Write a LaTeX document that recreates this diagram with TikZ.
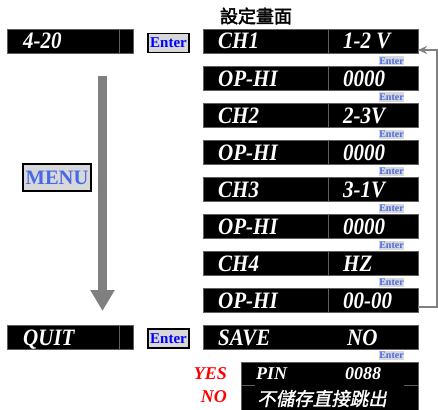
\documentclass[tikz,border=0pt]{standalone}
\usepackage{fontspec}
\setmainfont{Liberation Serif}
\newfontfamily\cjkit[FakeSlant=0.2,FakeBold=1.5]{Noto Sans CJK TC}
\newfontfamily\cjkbd[FakeBold=2.5]{Noto Sans CJK TC}
\usetikzlibrary{arrows.meta}
\definecolor{entblue}{RGB}{0,0,255}
\definecolor{ltblue}{RGB}{70,105,235}
\definecolor{lgray}{RGB}{216,216,216}
\definecolor{agray}{RGB}{128,128,128}
\definecolor{edgegray}{RGB}{95,95,95}
\newcommand\tallt[1]{\scalebox{1}[1.12]{#1}}
\begin{document}
\begin{tikzpicture}[x=1pt,y=-1pt,
  blk/.style={fill=black,draw=edgegray,line width=0.6pt,anchor=north west,inner sep=0,outer sep=0},
  wt/.style={text=white,font=\fontsize{21}{21}\selectfont\bfseries\itshape,anchor=base west,inner sep=0},
  wts/.style={text=white,font=\fontsize{18}{18}\selectfont\bfseries\itshape,anchor=base west,inner sep=0},
  divider/.style={draw=edgegray,line width=0.6pt},
  bigenter/.style={fill=lgray,draw=black,line width=1.6pt,text=entblue,font=\fontsize{15}{15}\selectfont\bfseries,inner sep=0.8pt,minimum width=41pt,minimum height=19pt},
  smenter/.style={fill=lgray,text=ltblue,font=\fontsize{10}{10}\selectfont\bfseries,inner sep=0.6pt,minimum width=25pt,minimum height=9pt},
  redt/.style={text=red,font=\fontsize{18}{18}\selectfont\bfseries\itshape,anchor=base east,inner sep=0}]
\useasboundingbox (0,0) rectangle (438,409);

% title
\node[font=\fontsize{18}{18}\selectfont\cjkbd,inner sep=0] (title) at (256,16) {設定畫面};

% left column
\node[blk,minimum width=126pt,minimum height=24pt] (lin) at (7,29) {};
\draw[divider] (119,29) -- (119,53);
\node[wt] (tin) at (23,49) {\tallt{4-20}};
\node[bigenter] (e1) at (168.5,43) {Enter};

\node[blk,minimum width=126pt,minimum height=24pt] (lquit) at (7,325) {};
\draw[divider] (119,325) -- (119,349);
\node[wt] (tquit) at (23,345) {\tallt{QUIT}};
\node[bigenter] (e2) at (168.5,338.5) {Enter};

% menu arrow
\coordinate (mtop) at (102.5,76);
\coordinate (mbot) at (102.5,311);
\draw[agray,line width=9pt,-{Triangle[width=23pt,length=21pt]}] (mtop) -- (mbot);
\node[fill=lgray,draw=black,line width=2pt,text=ltblue,font=\fontsize{20.5}{20.5}\selectfont\bfseries,inner sep=0.5pt,minimum width=68pt,minimum height=27pt] (menu) at (57,177.5) {MENU};

% right column rows
\foreach \i/\a/\b/\y in {1/CH1/1-2 V/29, 2/OP-HI/0000/66, 3/CH2/2-3V/103, 4/OP-HI/0000/140, 5/CH3/3-1V/177, 6/OP-HI/0000/214, 7/CH4/HZ/251, 8/OP-HI/00-00/288}{
  \node[blk,minimum width=215pt,minimum height=24.5pt] (r\i) at (203,\y) {};
  \draw[divider] (328,\y) -- (328,\y+24.5);
  \node[wt] (ra\i) at (218,\y+20) {\tallt{\a}};
  \node[wt] (rb\i) at (343,\y+20) {\tallt{\b}};
}
\foreach \i/\y in {1/61,2/97,3/134,4/171,5/208,6/245,7/282}{
  \node[smenter] (se\i) at (391.5,\y) {Enter};
}

% save row
\node[blk,minimum width=215pt,minimum height=24pt] (rsave) at (203,325) {};
\node[wt] (tsave) at (218,345) {\tallt{SAVE}};
\node[wt] (tno) at (347,345) {\tallt{NO}};
\node[smenter] (se8) at (391.5,355.5) {Enter};

% pin box
\node[blk,minimum width=177pt,minimum height=48pt] (pin) at (241,362) {};
\draw[divider] (241,385.5) -- (255,385.5);
\draw[divider] (404,385.5) -- (418,385.5);
\node[wts] (tpin) at (256,379) {PIN};
\node[wts] (tpn) at (345,379) {0088};
\node[text=white,font=\fontsize{18.5}{18.5}\selectfont\cjkit,inner sep=0] (tcn) at (322,398.5) {不儲存直接跳出};
\node[redt] (yes) at (227,379) {YES};
\node[redt] (no) at (227,402) {NO};

% feedback arrow
\coordinate (fb1) at (437,307);
\coordinate (fb2) at (437,50);
\draw[agray,line width=1.5pt,-{Stealth[length=9pt,width=8pt]}] (r8.east |- fb1) -- (fb1) -- (fb2) -- (r1.east |- fb2);
\end{tikzpicture}
\end{document}
